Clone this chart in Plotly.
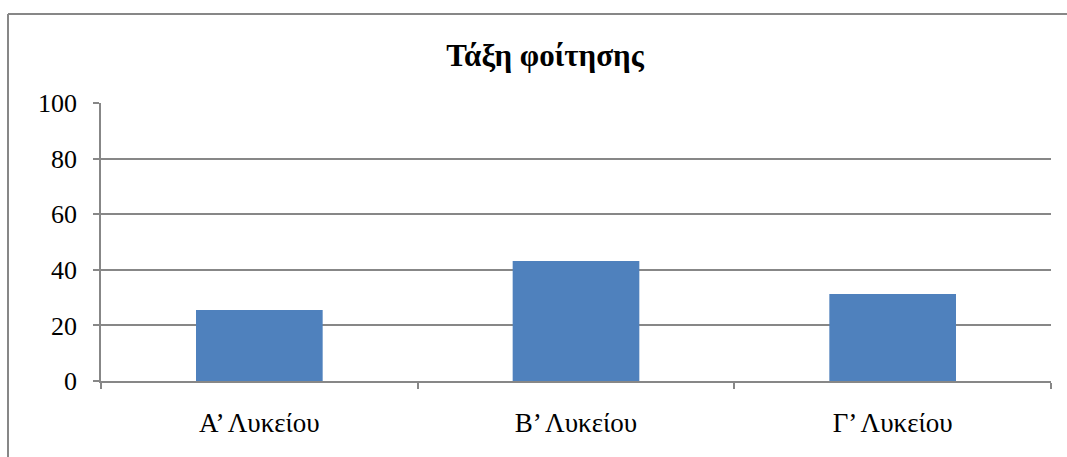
import plotly.graph_objects as go

categories = ["Α’ Λυκείου", "Β’ Λυκείου", "Γ’ Λυκείου"]
values = [25.5, 43.2, 31.3]
title_text = "Τάξη φοίτησης"

W, H = 1067, 457
L, R, T, B = 101, 1051, 103, 381
GRAY = "#878787"
FONT = "Liberation Serif"

def px_x(px):
    return (px - L) / (R - L)

def px_y(py):
    return (B - py) / (B - T)

fig = go.Figure(go.Bar(x=categories, y=values, marker_color="#4F81BD",
                       marker_line_width=0, width=0.4))

fig.update_layout(
    width=W, height=H,
    margin=dict(l=L, r=W - R, t=T, b=H - B, pad=0),
    paper_bgcolor="white", plot_bgcolor="white",
    showlegend=False,
    title=dict(text="<b>" + title_text + "</b>", x=545 / W, xref="container",
               xanchor="center", y=1 - 55 / H, yref="container", yanchor="middle",
               font=dict(family=FONT, size=31, color="black")),
    font=dict(family=FONT, color="black"),
    bargap=0.6,
)

fig.update_yaxes(range=[0, 100], dtick=20, tick0=0, showgrid=True, gridcolor=GRAY,
                 gridwidth=1.5, showline=True, linecolor=GRAY, linewidth=1.5,
                 ticks="outside", ticklen=6, tickcolor=GRAY, tickwidth=1.5,
                 ticklabelstandoff=11, zeroline=False,
                 tickfont=dict(family=FONT, size=26, color="black"))
fig.update_xaxes(showgrid=False, showline=True, linecolor=GRAY, linewidth=1.5,
                 ticks="outside", ticklen=6, tickcolor=GRAY, tickwidth=1.5,
                 tickson="boundaries", ticklabelstandoff=17,
                 tickfont=dict(family=FONT, size=27, color="black"))

# chart-area border (extends beyond the right/bottom of the picture)
fig.add_shape(type="line", xref="paper", yref="paper",
              x0=px_x(8), y0=px_y(14), x1=px_x(1080), y1=px_y(14),
              line=dict(color=GRAY, width=2))
fig.add_shape(type="line", xref="paper", yref="paper",
              x0=px_x(8), y0=px_y(14), x1=px_x(8), y1=px_y(470),
              line=dict(color=GRAY, width=2))

fig.write_html("out.html")
